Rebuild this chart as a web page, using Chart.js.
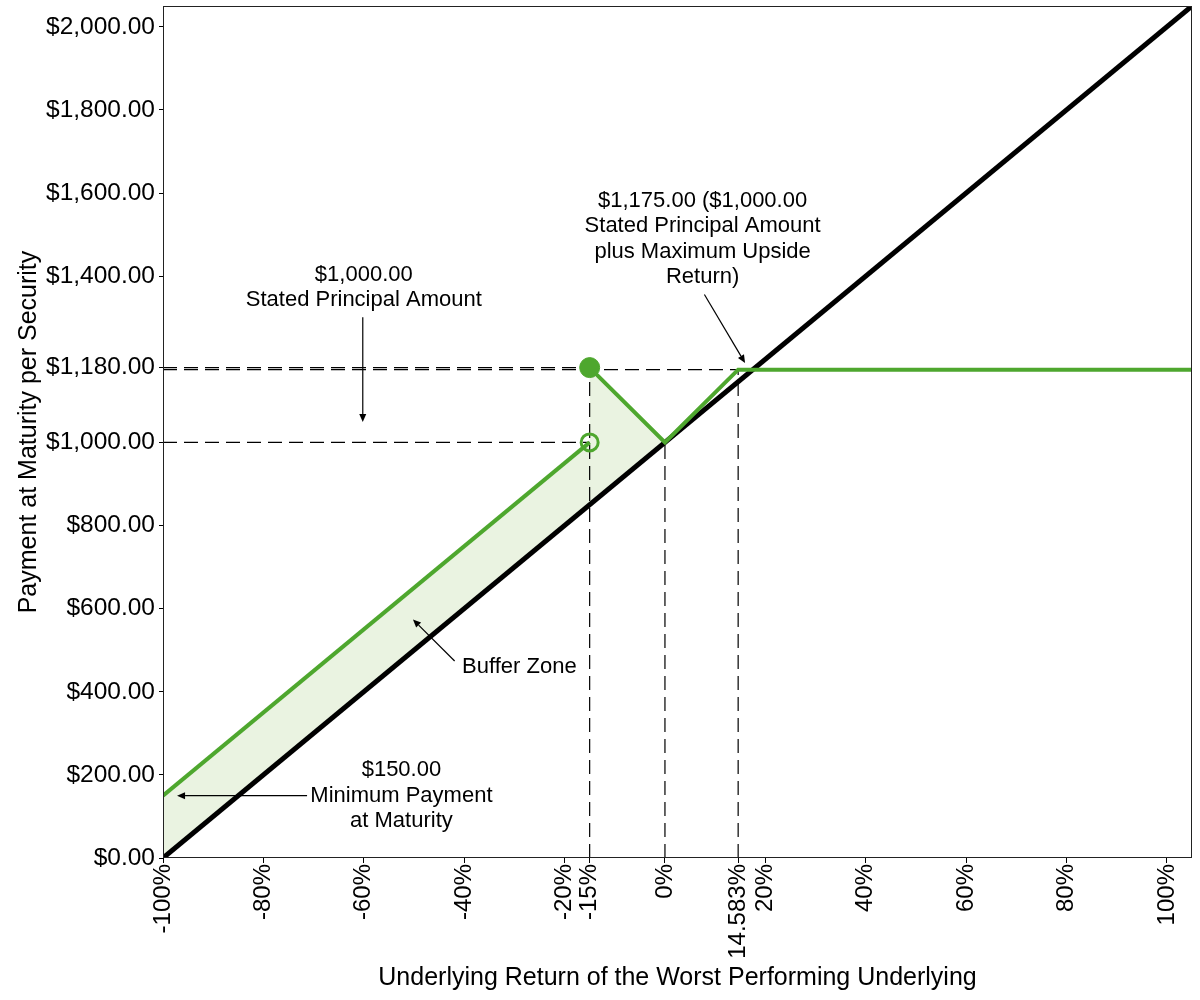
<!DOCTYPE html>
<html><head><meta charset="utf-8">
<script src="https://cdn.jsdelivr.net/npm/chart.js@4.4.1/dist/chart.umd.min.js"></script>
<style>html,body{margin:0;padding:0;background:#fff}canvas{display:block}</style>
</head><body>
<canvas id="c" width="1200" height="1000"></canvas>
<script>
// ---- data ----
const xTickValues = [-100, -80, -60, -40, -20, -15, 0, 14.583, 20, 40, 60, 80, 100];
const yTickValues = [0, 200, 400, 600, 800, 1000, 1180, 1400, 1600, 1800, 2000];

const underlyingX = [-100, 105];
const underlyingY = [0, 2050];

const lowerLegX = [-100, -15];
const lowerLegY = [150, 1000];
const upperLegX = [-15, 0, 14.583, 105];
const upperLegY = [1180, 1000, 1175, 1175];

const bufferX = [-100, -15, -15, 0];
const bufferY = [150, 1000, 1180, 1000];
const bufferBaseX = [-100, 0];
const bufferBaseY = [0, 1000];

const filledDotX = [-15], filledDotY = [1180];
const openDotX = [-15], openDotY = [1000];

const guideX = [[-100, -15], [-100, 14.583], [-100, -15], [-15, -15], [0, 0], [14.583, 14.583]];
const guideY = [[1180, 1180], [1175, 1175], [1000, 1000], [0, 1180], [0, 1000], [0, 1175]];

const noteTexts = [
  ['$1,000.00', 'Stated Principal Amount'],
  ['$1,175.00 ($1,000.00', 'Stated Principal Amount', 'plus Maximum Upside', 'Return)'],
  ['Buffer Zone'],
  ['$150.00', 'Minimum Payment', 'at Maturity']
];
const noteAt = [[-60, 1389], [7.5, 1567], [-29, 445], [-52.5, 197]];
const arrowFrom = [[-60.2, 1301], [7.86, 1356], [-41.9, 474], [-71.3, 150]];
const arrowTo = [[-60.2, 1049], [15.96, 1191], [-50.2, 574], [-97.2, 150]];

// ---- helpers ----
const pts = (xs, ys) => xs.map((v, i) => ({x: v, y: ys[i]}));
const GREEN = '#4ea72e';
const FONT = '"Liberation Sans", Arial, sans-serif';

const datasets = [];
datasets.push({data: pts(filledDotX, filledDotY), showLine: false, pointRadius: 10, pointBackgroundColor: GREEN, pointBorderColor: GREEN, pointBorderWidth: 1, order: 0});
datasets.push({data: pts(openDotX, openDotY), showLine: false, pointRadius: 8.5, pointBackgroundColor: 'rgba(0,0,0,0)', pointBorderColor: GREEN, pointBorderWidth: 3, order: 0});
datasets.push({data: pts(lowerLegX, lowerLegY), showLine: true, borderColor: GREEN, borderWidth: 4, pointRadius: 0, order: 1});
datasets.push({data: pts(upperLegX, upperLegY), showLine: true, borderColor: GREEN, borderWidth: 4, pointRadius: 0, order: 1, borderJoinStyle: 'miter'});
datasets.push({data: pts(underlyingX, underlyingY), showLine: true, borderColor: '#000', borderWidth: 5, pointRadius: 0, order: 2});
guideX.forEach((gx, i) => datasets.push({data: pts(gx, guideY[i]), showLine: true, borderColor: '#000', borderWidth: 1.2, borderDash: [14, 7], pointRadius: 0, order: 3}));
const baseIndex = datasets.length;
datasets.push({data: pts(bufferBaseX, bufferBaseY), showLine: true, borderColor: 'rgba(0,0,0,0)', borderWidth: 0, pointRadius: 0, order: 5});
datasets.push({data: pts(bufferX, bufferY), showLine: true, borderColor: 'rgba(0,0,0,0)', borderWidth: 0, pointRadius: 0, backgroundColor: '#eaf3e1', fill: baseIndex, order: 5});

const fmtMoney = v => '$' + Number(v).toFixed(2).replace(/\B(?=(\d{3})+(?!\d))/g, ',');

const overlay = {
  id: 'overlay',
  afterDatasetsDraw(chart) {
    const {ctx, chartArea: a, scales: {x, y}} = chart;
    ctx.save();
    ctx.strokeStyle = '#222';
    ctx.lineWidth = 1;
    ctx.strokeRect(a.left + 0.5, a.top + 0.5, a.right - a.left - 1, a.bottom - a.top - 1);
    ctx.fillStyle = '#000';
    ctx.font = '22px ' + FONT;
    ctx.textAlign = 'center';
    ctx.textBaseline = 'alphabetic';
    noteTexts.forEach((lines, i) => {
      const px = x.getPixelForValue(noteAt[i][0]);
      const py = y.getPixelForValue(noteAt[i][1]);
      lines.forEach((t, k) => ctx.fillText(t, px, py + k * 25.5));
    });
    ctx.strokeStyle = '#000';
    ctx.lineWidth = 1.2;
    arrowFrom.forEach((f, i) => {
      const x1 = x.getPixelForValue(f[0]), y1 = y.getPixelForValue(f[1]);
      const x2 = x.getPixelForValue(arrowTo[i][0]), y2 = y.getPixelForValue(arrowTo[i][1]);
      const ang = Math.atan2(y2 - y1, x2 - x1);
      const L = 8, W = 3.5;
      const bx = x2 - L * Math.cos(ang), by = y2 - L * Math.sin(ang);
      ctx.beginPath(); ctx.moveTo(x1, y1); ctx.lineTo(bx, by); ctx.stroke();
      ctx.beginPath();
      ctx.moveTo(x2, y2);
      ctx.lineTo(bx + W * Math.sin(ang), by - W * Math.cos(ang));
      ctx.lineTo(bx - W * Math.sin(ang), by + W * Math.cos(ang));
      ctx.closePath(); ctx.fill();
    });
    ctx.restore();
  }
};

const zeroPad = s => { s.paddingTop = 0; s.paddingBottom = 0; s.paddingLeft = 0; s.paddingRight = 0; };

new Chart(document.getElementById('c'), {
  type: 'scatter',
  data: {datasets},
  options: {
    responsive: false,
    animation: false,
    devicePixelRatio: 1,
    layout: {autoPadding: false, padding: {top: 6, right: 8, left: 0, bottom: 0}},
    elements: {line: {tension: 0}},
    plugins: {legend: {display: false}, tooltip: {enabled: false}, filler: {drawTime: 'beforeDatasetsDraw'}},
    scales: {
      x: {
        type: 'linear', min: -100, max: 105,
        afterBuildTicks: s => { s.ticks = xTickValues.map(v => ({value: v})); },
        afterFit: s => { s.height = 142; zeroPad(s); },
        grid: {display: true, drawOnChartArea: false, drawTicks: true, tickLength: 5, color: '#000'},
        border: {display: false},
        ticks: {autoSkip: false, minRotation: 90, maxRotation: 90, padding: 1, color: '#000',
                font: {family: FONT, size: 24}, callback: v => v + '%'},
        title: {display: true, text: 'Underlying Return of the Worst Performing Underlying', color: '#000',
                font: {family: FONT, size: 25}, padding: {top: 0, bottom: 7}}
      },
      y: {
        type: 'linear', min: 0, max: 2050,
        afterBuildTicks: s => { s.ticks = yTickValues.map(v => ({value: v})); },
        afterFit: s => { s.width = 163; zeroPad(s); },
        grid: {display: true, drawOnChartArea: false, drawTicks: true, tickLength: 4, color: '#000'},
        border: {display: false},
        ticks: {autoSkip: false, padding: 4, color: '#000', font: {family: FONT, size: 24.5}, callback: v => fmtMoney(v)},
        title: {display: true, text: 'Payment at Maturity per Security', color: '#000',
                font: {family: FONT, size: 25}, padding: {top: 14, bottom: 0}}
      }
    }
  },
  plugins: [overlay]
});
</script>
</body></html>
